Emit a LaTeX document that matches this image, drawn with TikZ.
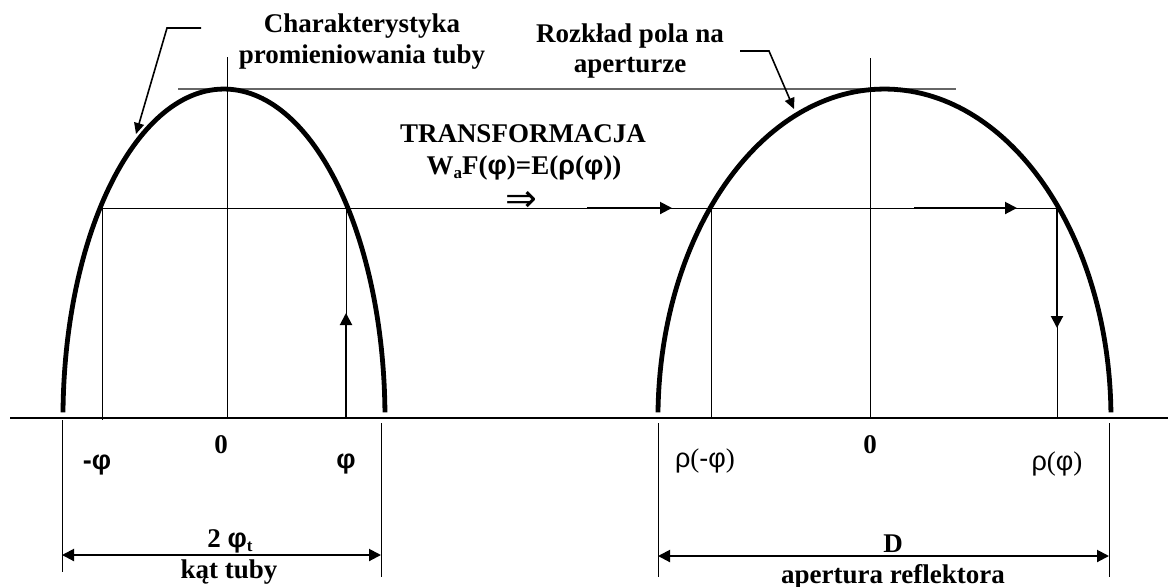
\documentclass[tikz,border=0pt]{standalone}
\usepackage{fontspec}
\setmainfont{Liberation Serif}
\newfontfamily\grk{Liberation Sans}
\newfontfamily\arw{DejaVu Sans}
\usepackage{tikz}
\usetikzlibrary{arrows.meta}
\tikzset{
  curve/.style   = {draw=black, line width=2.4pt},
  thin/.style    = {draw=black, line width=0.5pt},
  axis/.style    = {draw=black, line width=0.7pt},
  topline/.style = {draw=black!60, line width=0.8pt},
  arr/.style     = {-{Triangle[length=6pt,width=6pt]}, draw=black, line width=1pt},
  dimarr/.style  = {{Triangle[length=6pt,width=6pt]}-{Triangle[length=6pt,width=6pt]}, draw=black, line width=1pt},
  ptr/.style     = {-{Triangle[length=5.5pt,width=5pt]}, draw=black, line width=0.8pt},
  lbl/.style     = {font=\fontsize{13.5}{16}\selectfont\bfseries, anchor=base, inner sep=0pt},
  glbl/.style    = {font=\fontsize{13.5}{16}\selectfont\grk\bfseries, anchor=base, inner sep=0pt},
  rlbl/.style    = {font=\fontsize{13.5}{16}\selectfont, anchor=base, inner sep=0pt},
}
\newcommand{\gr}[1]{{\grk #1}}
\newcommand{\sbs}[1]{\raisebox{-0.35ex}{\fontsize{8.5}{9}\selectfont #1}}

\begin{document}
\begin{tikzpicture}[x=0.5pt,y=-0.5pt]
  \useasboundingbox (0,0) rectangle (1168,586);

  % key points
  \coordinate (axL) at (10,418);
  \coordinate (axR) at (1168,418);
  \coordinate (c1top) at (227,57);
  \coordinate (c1bot) at (227,418);
  \coordinate (c2top) at (870,58);
  \coordinate (c2bot) at (870,418);
  \coordinate (pkL) at (178,89);
  \coordinate (pkR) at (956,89);
  \coordinate (mphi) at (102,208);
  \coordinate (mphib) at (102,420);
  \coordinate (phi) at (346,208);
  \coordinate (phib) at (346,418);
  \coordinate (phiup) at (346,313);
  \coordinate (rmphi) at (711,208);
  \coordinate (rmphib) at (711,418);
  \coordinate (rphi) at (1057,208);
  \coordinate (rphib) at (1057,418);
  \coordinate (rphidn) at (1057,328);

  % axis, centre lines, levels
  \draw[axis] (axL) -- (axR);
  \draw[thin] (c1top) -- (c1bot);
  \draw[thin] (c2top) -- (c2bot);
  \draw[topline] (pkL) -- (pkR);
  \draw[thin] (mphi) -- (rphi);
  \draw[thin] (mphi) -- (mphib);
  \draw[thin] (phi) -- (phib);
  \draw[thin] (rmphi) -- (rmphib);
  \draw[thin] (rphi) -- (rphib);

  % beams (half ellipses)
  \coordinate (b1) at (63.0,412.3);
  \coordinate (b2) at (658.0,412.3);
  \draw[curve] (b1) arc[start angle=181, end angle=359, x radius=161, y radius=329];
  \draw[curve] (b2) arc[start angle=181, end angle=359, x radius=226.5, y radius=329];

  % transformation arrows
  \coordinate (a1s) at (587,208);
  \coordinate (a1e) at (672,208);
  \coordinate (a2s) at (914,208);
  \coordinate (a2e) at (1017,208);
  \draw[arr] (phib) -- (phiup);
  \draw[arr] (a1s) -- (a1e);
  \draw[arr] (a2s) -- (a2e);
  \draw[arr] (rphi) -- (rphidn);

  % pointers to the curves
  \coordinate (p1a) at (201,28);
  \coordinate (p1b) at (167,28);
  \coordinate (p1c) at (136,134);
  \coordinate (p2a) at (740,51);
  \coordinate (p2b) at (769,51);
  \coordinate (p2c) at (794,109);
  \draw[ptr] (p1a) -- (p1b) -- (p1c);
  \draw[ptr] (p2a) -- (p2b) -- (p2c);

  % dimensions
  \coordinate (d1a) at (62,420);
  \coordinate (d1b) at (62,572);
  \coordinate (d1c) at (381,423);
  \coordinate (d1d) at (381,577);
  \coordinate (d2a) at (658,423);
  \coordinate (d2b) at (658,577);
  \coordinate (d2c) at (1109,423);
  \coordinate (d2d) at (1109,577);
  \draw[thin] (d1a) -- (d1b);
  \draw[thin] (d1c) -- (d1d);
  \draw[thin] (d2a) -- (d2b);
  \draw[thin] (d2c) -- (d2d);
  \draw[dimarr] (62,555) -- (381,555);
  \draw[dimarr] (658,556) -- (1109,556);

  % texts
  \node[lbl] (char1) at (362,32) {Charakterystyka};
  \node[lbl] (char2) at (362,63) {promieniowania tuby};
  \node[lbl] (roz1) at (630,42) {Rozkład pola na};
  \node[lbl] (roz2) at (630,72) {aperturze};
  \node[lbl] (tr1) at (523,142) {TRANSFORMACJA};
  \node[lbl] (tr2) at (524,174) {W\sbs{a}F(\gr{φ})=E(\gr{ρ}(\gr{φ}))};
  \node[inner sep=0pt, font=\fontsize{19}{20}\selectfont\arw] (impl) at (521,201) {⇒};

  \node[lbl] (zero1) at (221,453) {0};
  \node[glbl] (lmphi) at (97,469) {-φ};
  \node[glbl] (lphi) at (346,468) {φ};
  \node[lbl] (zero2) at (870,453) {0};
  \node[rlbl] (lrmphi) at (705,467) {\gr{ρ}(\gr{-φ})};
  \node[rlbl] (lrphi) at (1057,470) {\gr{ρ}(\gr{φ})};

  \node[lbl] (tw) at (230,547) {2 \gr{φ}\sbs{t}};
  \node[lbl] (kat) at (229,578) {kąt tuby};
  \node[lbl] (dd) at (893,552) {D};
  \node[lbl] (apr) at (893,583) {apertura reflektora};
\end{tikzpicture}
\end{document}
